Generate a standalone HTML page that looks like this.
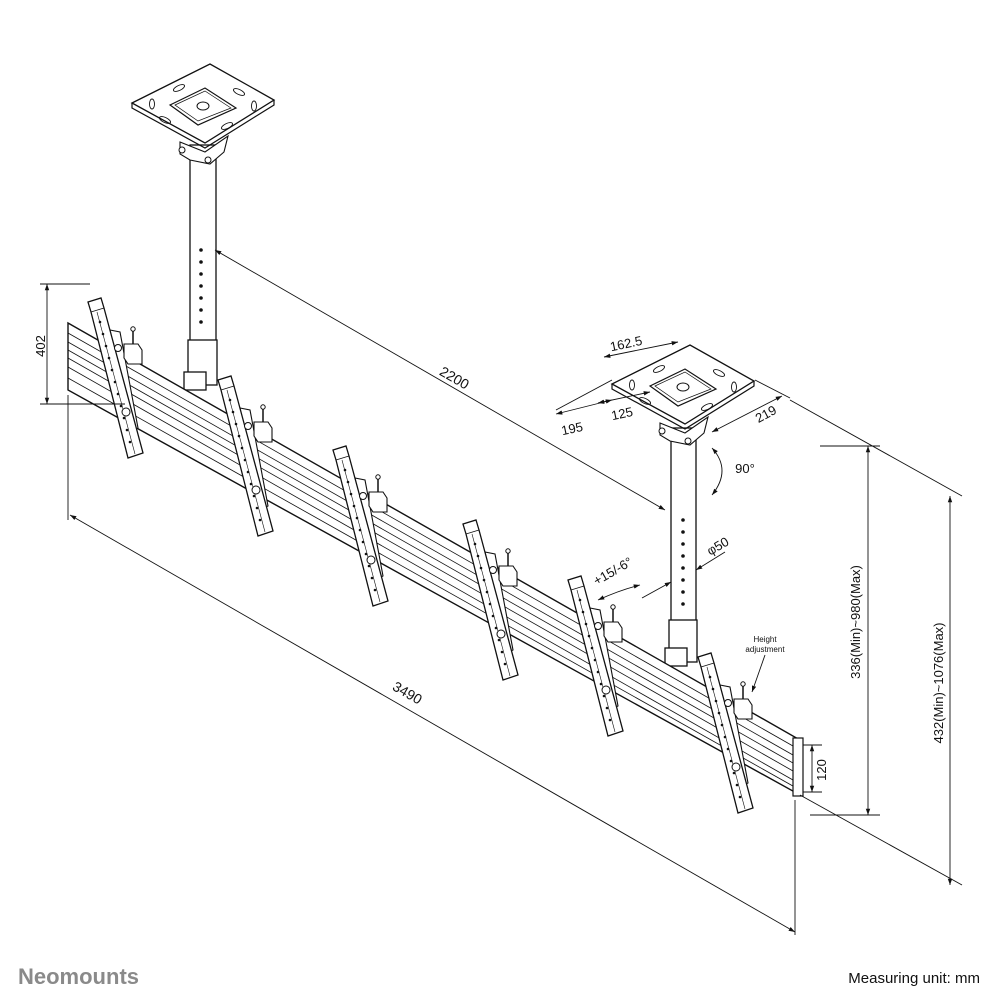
<!DOCTYPE html>
<html><head><meta charset="utf-8"><style>
html,body{margin:0;padding:0;background:#fff;}
svg{display:block;}
text{font-family:"Liberation Sans",sans-serif;fill:#111;}
</style></head><body>
<svg width="1004" height="1004" viewBox="0 0 1004 1004" xmlns="http://www.w3.org/2000/svg">
<defs>
<marker id="a" viewBox="0 0 10 10" refX="10" refY="5" markerWidth="7" markerHeight="7" orient="auto-start-reverse"><path d="M0,1.5 L10,5 L0,8.5 z" fill="#111"/></marker>
<g id="br">
  <polygon points="22,30 32,32 50,128 42,132" fill="#fff" stroke="#111" stroke-width="1.1"/>
  <polygon points="0,2 13,-2 16,8 55,153 40,158 3,12" fill="#fff" stroke="#111" stroke-width="1.3"/>
  <line x1="3" y1="12" x2="16" y2="8" stroke="#111" stroke-width="0.8"/>
  <line x1="9" y1="12" x2="47" y2="154" stroke="#111" stroke-width="0.6"/>
  <g fill="#111"><circle cx="12" cy="22" r="1.3"/><circle cx="15" cy="34" r="1.3"/><circle cx="18" cy="46" r="1.3"/><circle cx="21" cy="58" r="1.3"/><circle cx="24" cy="70" r="1.3"/><circle cx="27" cy="82" r="1.3"/><circle cx="30" cy="94" r="1.3"/><circle cx="33" cy="106" r="1.3"/><circle cx="36" cy="118" r="1.3"/><circle cx="39" cy="130" r="1.3"/><circle cx="42" cy="142" r="1.3"/></g>
  <polygon points="36,44 50,44 54,50 54,64 40,64 36,58" fill="#fff" stroke="#111" stroke-width="1.1"/>
  <line x1="45" y1="44" x2="45" y2="30" stroke="#111" stroke-width="1.5"/>
  <circle cx="45" cy="29" r="2.2" fill="#fff" stroke="#111"/>
  <circle cx="30" cy="48" r="3.5" fill="#fff" stroke="#111"/>
  <circle cx="38" cy="112" r="4" fill="#fff" stroke="#111"/>
</g>
<g id="plate">
  <polygon points="0,39 78,0 142,36 73,79" fill="#fff" stroke="#111" stroke-width="1.3"/>
  <polyline points="0,39 0,44 73,84 142,41 142,36" fill="none" stroke="#111" stroke-width="1.2"/>
  <polygon points="38,41 73,24 104,44 66,61" fill="none" stroke="#111" stroke-width="1.2"/>
  <polygon points="43,41 73,27 99,44 66,57" fill="none" stroke="#111" stroke-width="0.7"/>
  <ellipse cx="71" cy="42" rx="6" ry="4" fill="none" stroke="#111"/>
  <g fill="none" stroke="#111" stroke-width="0.9">
    <ellipse cx="47" cy="24" rx="6" ry="2.5" transform="rotate(-25 47 24)"/>
    <ellipse cx="107" cy="28" rx="6" ry="2.5" transform="rotate(25 107 28)"/>
    <ellipse cx="33" cy="56" rx="6" ry="2.5" transform="rotate(25 33 56)"/>
    <ellipse cx="95" cy="62" rx="6" ry="2.5" transform="rotate(-25 95 62)"/>
    <ellipse cx="20" cy="40" rx="2.5" ry="5"/>
    <ellipse cx="122" cy="42" rx="2.5" ry="5"/>
  </g>
  <polygon points="48,78 73,88 96,72 92,88 78,100 58,96 48,90" fill="#fff" stroke="#111" stroke-width="1.1"/>
  <circle cx="50" cy="86" r="3" fill="#fff" stroke="#111"/>
  <circle cx="76" cy="96" r="3" fill="#fff" stroke="#111"/>
</g>
</defs>

<!-- left ceiling plate & pole -->
<g stroke="#111" stroke-width="1.3" fill="#fff">
  <rect x="190" y="145" width="26" height="200"/>
  <rect x="188" y="340" width="29" height="45"/>
  <rect x="184" y="372" width="22" height="18"/>
</g>
<use href="#plate" x="132" y="64"/>
<g fill="#111"><circle cx="201" cy="250" r="1.8"/><circle cx="201" cy="262" r="1.8"/><circle cx="201" cy="274" r="1.8"/><circle cx="201" cy="286" r="1.8"/><circle cx="201" cy="298" r="1.8"/><circle cx="201" cy="310" r="1.8"/><circle cx="201" cy="322" r="1.8"/></g>

<!-- right ceiling plate & pole -->
<g stroke="#111" stroke-width="1.3" fill="#fff">
  <rect x="671" y="428" width="25" height="197"/>
  <rect x="669" y="620" width="28" height="42"/>
  <rect x="665" y="648" width="22" height="18"/>
</g>
<use href="#plate" x="612" y="345"/>
<g fill="#111"><circle cx="683" cy="520" r="1.8"/><circle cx="683" cy="532" r="1.8"/><circle cx="683" cy="544" r="1.8"/><circle cx="683" cy="556" r="1.8"/><circle cx="683" cy="568" r="1.8"/><circle cx="683" cy="580" r="1.8"/><circle cx="683" cy="592" r="1.8"/><circle cx="683" cy="604" r="1.8"/></g>

<!-- rail -->
<g stroke="#111" fill="none">
  <polygon points="68,323 800,740 800,795 68,390" fill="#fff" stroke-width="1.4"/>
  <line x1="68" y1="333" x2="800" y2="750" stroke-width="0.8"/>
  <line x1="68" y1="342" x2="800" y2="759" stroke-width="0.8"/>
  <line x1="68" y1="350" x2="800" y2="767" stroke-width="0.8"/>
  <line x1="68" y1="358" x2="800" y2="775" stroke-width="0.8"/>
  <line x1="68" y1="367" x2="800" y2="784" stroke-width="0.8"/>
  <line x1="68" y1="378" x2="800" y2="790" stroke-width="0.8"/>
  <rect x="793" y="738" width="10" height="58" fill="#fff" stroke-width="1.2"/>
</g>

<!-- brackets -->
<use href="#br" x="88" y="300"/>
<use href="#br" x="218" y="378"/>
<use href="#br" x="333" y="448"/>
<use href="#br" x="463" y="522"/>
<use href="#br" x="568" y="578"/>
<use href="#br" x="698" y="655"/>

<!-- dimensions -->
<g stroke="#111" stroke-width="0.9" fill="none">
  <line x1="47" y1="284" x2="47" y2="404" marker-start="url(#a)" marker-end="url(#a)"/>
  <line x1="40" y1="284" x2="90" y2="284"/><line x1="40" y1="404" x2="125" y2="404"/>
  <line x1="215" y1="250" x2="665" y2="510" marker-start="url(#a)" marker-end="url(#a)"/>
  <line x1="70" y1="515" x2="795" y2="932" marker-start="url(#a)" marker-end="url(#a)"/>
  <line x1="68" y1="395" x2="68" y2="520"/>
  <line x1="795" y1="800" x2="795" y2="935"/>
  <line x1="868" y1="446" x2="868" y2="815" marker-start="url(#a)" marker-end="url(#a)"/>
  <line x1="820" y1="446" x2="880" y2="446"/><line x1="810" y1="815" x2="880" y2="815"/>
  <line x1="950" y1="496" x2="950" y2="885" marker-start="url(#a)" marker-end="url(#a)"/>
  <line x1="790" y1="400" x2="962" y2="496"/><line x1="800" y1="795" x2="962" y2="885"/>
  <line x1="812" y1="745" x2="812" y2="792" marker-start="url(#a)" marker-end="url(#a)"/>
  <line x1="803" y1="745" x2="822" y2="745"/><line x1="803" y1="792" x2="822" y2="792"/>
  <line x1="604" y1="357" x2="678" y2="342" marker-start="url(#a)" marker-end="url(#a)"/>
  <line x1="598" y1="403" x2="650" y2="392" marker-start="url(#a)" marker-end="url(#a)"/>
  <line x1="556" y1="414" x2="612" y2="400" marker-start="url(#a)" marker-end="url(#a)"/>
  <line x1="712" y1="432" x2="782" y2="396" marker-start="url(#a)" marker-end="url(#a)"/>
  <line x1="556" y1="410" x2="612" y2="380"/><line x1="755" y1="380" x2="790" y2="398"/>
  <path d="M712,495 Q732,470 712,448" marker-start="url(#a)" marker-end="url(#a)"/>
  <line x1="642" y1="598" x2="671" y2="582" marker-end="url(#a)"/>
  <line x1="725" y1="552" x2="696" y2="570" marker-end="url(#a)"/>
  <path d="M598,600 Q620,590 640,585" marker-start="url(#a)" marker-end="url(#a)"/>
  <line x1="765" y1="655" x2="752" y2="692" marker-end="url(#a)"/>
</g>
<text x="45" y="346" font-size="13" text-anchor="middle" transform="rotate(-90 45 346)">402</text>
<text x="452" y="382" font-size="14" text-anchor="middle" transform="rotate(30 452 382)">2200</text>
<text x="405" y="697" font-size="14" text-anchor="middle" transform="rotate(30 405 697)">3490</text>
<text x="627" y="348" font-size="13" text-anchor="middle" transform="rotate(-12 627 348)">162.5</text>
<text x="623" y="418" font-size="13" text-anchor="middle" transform="rotate(-12 623 418)">125</text>
<text x="573" y="433" font-size="13" text-anchor="middle" transform="rotate(-12 573 433)">195</text>
<text x="768" y="418" font-size="13" text-anchor="middle" transform="rotate(-28 768 418)">219</text>
<text x="745" y="473" font-size="13" text-anchor="middle">90°</text>
<text x="720" y="550" font-size="13" text-anchor="middle" transform="rotate(-30 720 550)">φ50</text>
<text x="615" y="575" font-size="13" text-anchor="middle" transform="rotate(-30 615 575)">+15/-6°</text>
<text x="765" y="642" font-size="8" text-anchor="middle">Height</text>
<text x="765" y="652" font-size="8" text-anchor="middle">adjustment</text>
<text x="826" y="770" font-size="13" text-anchor="middle" transform="rotate(-90 826 770)">120</text>
<text x="860" y="622" font-size="13" text-anchor="middle" transform="rotate(-90 860 622)">336(Min)~980(Max)</text>
<text x="943" y="683" font-size="13" text-anchor="middle" transform="rotate(-90 943 683)">432(Min)~1076(Max)</text>
<text x="18" y="984" font-size="22" font-weight="bold" style="fill:#8a8a8a">Neomounts</text>
<text x="980" y="983" font-size="15" text-anchor="end">Measuring unit: mm</text>
</svg>
</body></html>
